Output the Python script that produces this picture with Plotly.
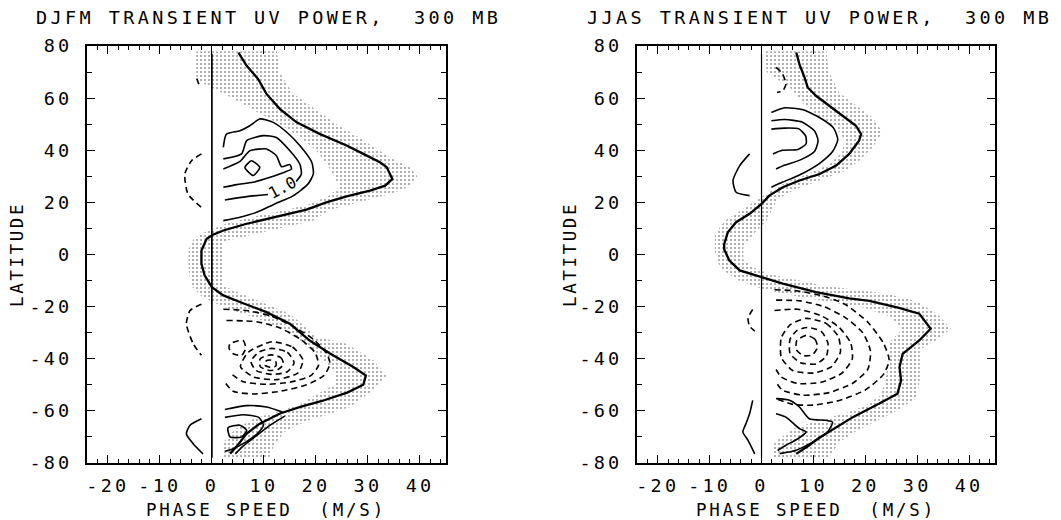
import plotly.graph_objects as go

# ---------------- tick values / labels ----------------
LAT_TICKS = [-80, -60, -40, -20, 0, 20, 40, 60, 80]
LAT_MINOR = [-70, -50, -30, -10, 10, 30, 50, 70]
SPEED_TICKS = [-20, -10, 0, 10, 20, 30, 40]
SPEED_MINOR = [-24, -22, -18, -16, -14, -12, -8, -6, -4, -2, 2, 4, 6, 8, 12, 14, 16, 18,
               22, 24, 26, 28, 32, 34, 36, 38, 42, 44]

TITLES = ["DJFM TRANSIENT UV POWER,\u00a0\u00a0300 MB", "JJAS TRANSIENT UV POWER,\u00a0\u00a0300 MB"]
X_TITLE = "PHASE SPEED\u00a0\u00a0(M/S)"
Y_TITLE = "LATITUDE"

# ---------------- DJFM panel (phase speed, latitude) ----------------
djfm_zonal_wind = [(5.1, 77.5), (6.7, 72.4), (8.9, 67.3), (10.5, 61.6), (13.1, 55.8), (16.3, 50.7),
                   (20.8, 46.2), (25.9, 41.8), (29.1, 38.6), (32.3, 35.4), (33.6, 33.5), (34.7, 29.0),
                   (33.3, 26.4), (30.4, 24.5), (25.9, 22.3), (22.0, 20.0), (18.2, 17.2), (13.1, 14.8),
                   (9.2, 13.0), (6.7, 11.8), (2.2, 9.2), (0.2, 7.6), (-1.0, 6.0), (-2.0, 1.5),
                   (-2.0, -3.6), (-1.4, -8.0), (0.0, -12.5), (2.2, -15.7), (6.0, -18.7), (10.5, -22.1),
                   (15.0, -26.6), (18.8, -33.0), (22.7, -38.0), (27.2, -43.2), (29.6, -46.4),
                   (29.1, -50.0), (26.0, -53.0), (21.0, -56.3), (17.0, -58.5), (13.1, -61.0),
                   (9.2, -64.9), (6.7, -68.7), (4.7, -73.8), (3.5, -76.4)]

djfm_stipple = [(12.5, 78), (13, 70), (15.5, 62), (19.5, 56.4), (24, 50), (29, 44), (34, 37.5),
                (38, 33.5), (39.5, 30), (38, 26), (34, 23), (30, 21), (26.5, 19), (22.5, 17),
                (19.5, 13), (13, 10), (6.7, 7), (2.2, 5), (2.2, -12), (7.3, -16.4), (15, -22.7),
                (20.2, -31.7), (25.9, -34.2), (31, -40.6), (33.6, -46.4), (31, -52.1), (26.5, -58.5),
                (22.7, -61.1), (18, -64), (14, -68), (12, -73), (11, -78),
                (2.2, -78), (2.2, -72), (4.5, -67), (8, -63), (13, -60), (17, -57.5), (19, -55),
                (23.5, -50), (23.5, -45), (21, -40), (17, -33), (13, -28), (8, -24), (4, -21.5),
                (1, -19), (-2, -16), (-4, -12), (-4.5, -5), (-4.5, 2), (-3.5, 6), (-1, 9), (3, 12),
                (8, 14.5), (14, 17), (19, 19.5), (22.5, 22.5), (24.5, 26), (23.5, 30), (22, 35),
                (20, 40), (17, 45), (13, 50), (8, 55.5), (4, 60), (0, 64), (-3, 67), (-3, 78)]

djfm_solid = [
    [(2.2, 41.1), (2.8, 46.2), (5.4, 47.5), (7.3, 49.4), (9.2, 52.0), (11.8, 50.7), (14.4, 46.9),
     (16.9, 41.8), (19.2, 35.4), (19.5, 30.9), (18.5, 27.1), (15.6, 22.5), (12.1, 19.4), (8.6, 16.2),
     (5.4, 14.3), (2.2, 13.0)],
    [(2.2, 36.7), (5.7, 38.6), (6.7, 43.7), (9.9, 45.6), (12.4, 44.9), (15.0, 39.8), (16.9, 34.7),
     (17.2, 30.9), (16.2, 28.0)],
    [(10.8, 23.0), (6.7, 22.2), (2.5, 20.9)],
    [(2.2, 32.8), (5.4, 35.7), (7.3, 39.8), (10.5, 40.5), (12.4, 37.9), (13.4, 33.7), (15.0, 34.5),
     (15.3, 32.8), (13.4, 31.2), (11.2, 29.6), (7.9, 27.7), (4.8, 26.8), (2.2, 25.8)],
    [(6.35, 33.4), (7.6, 36.0), (9.2, 33.4), (7.95, 30.3), (6.35, 33.4)],
    [(-2.0, -63.0), (-4.2, -65.5), (-4.9, -68.8), (-3.6, -72.6), (-1.7, -76.5)],
    [(2.5, -59.5), (6.7, -58.0), (10.5, -58.5), (13.7, -60.5)],
    [(2.5, -62.5), (6.0, -61.5), (9.0, -62.5), (9.9, -65.5), (8.6, -69.0), (6.5, -72.0), (4.1, -74.5),
     (2.5, -75.5)],
    [(3.1, -66.5), (5.4, -65.5), (6.7, -67.5), (5.7, -70.0), (3.5, -70.0), (3.1, -66.5)],
    [(14.0, -62.0), (11.2, -65.5), (8.6, -69.5), (6.0, -73.5), (4.5, -76.5)],
]

djfm_dashed = [
    [(-2.0, 38.6), (-3.9, 36.0), (-5.2, 30.9), (-4.6, 23.2), (-2.0, 18.1)],
    [(-2.9, 67.5), (-2.4, 64.8)],
    [(-2.0, -19.1), (-4.2, -21.5), (-4.9, -26.6), (-3.6, -34.2), (-2.0, -38.7)],
    [(2.2, -21.0), (6.7, -21.5), (11.2, -23.5), (15.6, -27.5), (19.5, -32.5), (22.1, -38.0),
     (22.7, -42.0), (21.5, -46.5), (18.2, -50.0), (13.1, -52.5), (7.9, -53.5), (4.1, -52.5),
     (2.5, -49.0)],
    [(2.8, -25.3), (8.6, -25.8), (13.1, -28.2), (17.0, -32.5), (19.8, -37.5), (20.5, -42.5),
     (19.0, -46.5), (15.0, -49.0), (10.5, -49.8), (6.0, -48.8), (3.5, -45.5)],
    [(11.5, -33.5), (15.5, -35.5), (17.5, -40.5), (16.5, -45.5), (12.5, -48.0), (8.0, -47.0),
     (5.5, -43.0), (7.0, -37.5), (11.5, -33.5)],
    [(11.5, -36.0), (14.5, -37.5), (15.8, -41.5), (14.5, -45.0), (11.5, -46.0), (8.5, -44.5),
     (7.5, -41.0), (9.0, -37.5), (11.5, -36.0)],
    [(11.3, -38.5), (13.2, -39.5), (13.8, -42.0), (12.8, -44.0), (11.0, -44.5), (9.3, -43.0),
     (9.3, -40.0), (11.3, -38.5)],
    [(11.2, -40.5), (12.3, -41.2), (12.3, -42.8), (11.2, -43.3), (10.2, -42.5), (10.3, -41.0),
     (11.2, -40.5)],
    [(3.5, -34.2), (6.0, -33.0), (6.5, -36.0), (5.7, -38.7), (4.1, -38.1), (3.3, -36.0), (3.5, -34.2)],
]

djfm_label = ("1.0", 13.6, 25.6)

# ---------------- JJAS panel ----------------
jjas_zonal_wind = [(6.7, 77.5), (7.3, 73.0), (8.3, 67.9), (8.9, 64.1), (10.5, 60.9), (13.1, 57.1),
                   (15.6, 53.3), (18.2, 49.4), (19.2, 46.2), (18.8, 43.7), (16.9, 38.6), (14.4, 34.1),
                   (11.2, 30.9), (7.3, 28.4), (4.1, 25.8), (1.5, 22.6), (0.0, 19.4), (-2.3, 15.6),
                   (-4.9, 12.4), (-6.5, 8.5), (-7.2, 4.0), (-7.2, 2.0), (-6.2, -2.3), (-4.2, -6.1),
                   (0.0, -8.7), (4.1, -11.2), (10.5, -14.4), (16.9, -16.8), (20.8, -17.8), (26.5, -20.5),
                   (30.4, -22.7), (32.6, -28.5), (30.4, -33.0), (27.2, -38.1), (26.6, -43.2),
                   (26.9, -48.3), (26.2, -53.4), (22.7, -57.2), (17.6, -62.4), (14.0, -67.0),
                   (11.0, -70.5), (9.0, -73.5), (6.7, -76.5)]

jjas_stipple = [(12.5, 78), (13, 70), (15, 62), (18.5, 57), (21.4, 52.6), (23.3, 47), (21.4, 41.1),
                (18.8, 36), (16.3, 32.2), (13.7, 30.3), (10, 27.5), (6, 24.5), (3, 21), (2, 17), (1, 13),
                (-1.5, 8), (-3.5, 3), (-3.5, -2), (-1.5, -5), (1.5, -7.5), (6, -9.5), (12, -12),
                (18, -13.5), (24, -15), (30, -18), (34, -23), (36.5, -28.5), (34, -32.5), (30.5, -36.5),
                (30.5, -42), (30.5, -48), (30, -55), (26, -60), (22, -64), (18, -68), (15, -72), (13, -78),
                (2, -78), (2.5, -72), (6, -67), (12, -63), (16, -61), (20, -58), (23, -54), (24, -47),
                (24.5, -40), (24.5, -34), (27, -29), (25, -24), (20, -20.5), (14, -18.5), (8, -16.5),
                (3, -14.5), (-1, -12.5), (-5, -9.5), (-8, -5), (-9, 1), (-9, 8), (-7, 13), (-4, 17),
                (-1, 21), (1.5, 24), (5, 28), (9, 31), (13, 34.5), (15.5, 39), (16, 44), (14.5, 48.5),
                (11, 53), (8, 58), (5.5, 64), (1, 70), (0.5, 78)]

jjas_solid = [
    [(1.9, 54.5), (4.5, 56.3), (8.0, 55.5), (11.8, 51.8), (13.9, 48.5), (14.7, 44.0), (13.7, 39.5),
     (11.2, 35.0), (7.3, 30.5), (4.1, 27.8), (1.9, 25.8)],
    [(1.9, 51.3), (4.5, 51.8), (7.8, 50.8), (10.2, 47.5), (10.9, 43.7), (10.2, 39.5), (7.5, 36.3),
     (4.5, 34.3), (2.8, 32.8)],
    [(1.9, 48.1), (4.5, 48.5), (7.2, 48.2), (8.5, 45.5), (8.6, 42.5), (7.0, 40.3), (4.0, 40.0),
     (2.2, 38.6)],
    [(-2.3, 38.6), (-4.2, 34.1), (-5.5, 28.4), (-4.9, 23.9), (-2.3, 22.6)],
    [(-1.7, -56.0), (-2.3, -61.1), (-3.0, -64.9), (-3.6, -68.1), (-2.6, -71.3), (-1.3, -76.5)],
    [(2.8, -55.3), (5.4, -55.9), (7.3, -58.5), (9.2, -63.0), (12.4, -63.6), (13.7, -64.3),
     (12.7, -68.1), (9.9, -71.9), (6.7, -75.1), (3.5, -76.4)],
    [(2.8, -61.1), (4.7, -62.4), (7.3, -66.8), (8.6, -68.1), (7.0, -70.7), (4.7, -73.2), (3.1, -75.2)],
]

jjas_dashed = [
    [(2.8, 71.8), (4.0, 69.5), (4.7, 65.4), (4.1, 62.8), (3.0, 62.2)],
    [(-1.7, -21.1), (-2.6, -24.3), (-2.3, -27.5), (-1.3, -29.4)],
    [(2.5, -13.5), (7.0, -14.0), (12.0, -16.0), (16.0, -19.0), (20.5, -26.0), (23.5, -34.0),
     (24.6, -40.5), (23.5, -46.0), (20.0, -52.0), (15.0, -56.0), (10.0, -57.8), (6.0, -57.5),
     (3.0, -55.5)],
    [(2.8, -17.5), (7.5, -17.8), (12.0, -20.0), (16.0, -24.0), (19.5, -30.0), (21.0, -37.0),
     (20.5, -44.0), (17.5, -49.5), (13.0, -53.0), (8.0, -54.0), (4.0, -52.0), (2.8, -49.0)],
    [(2.5, -21.5), (7.0, -21.0), (11.5, -23.5), (15.0, -28.0), (17.2, -34.0), (17.5, -40.0),
     (15.5, -45.5), (11.5, -49.0), (7.0, -49.5), (3.8, -47.0), (2.5, -43.0)],
    [(8.6, -24.5), (12.5, -26.5), (14.8, -31.5), (15.2, -37.5), (13.5, -43.0), (10.0, -45.5),
     (6.0, -44.5), (3.8, -39.5), (3.8, -32.0), (5.5, -27.0), (8.6, -24.5)],
    [(8.8, -28.0), (11.5, -29.5), (12.8, -34.0), (12.5, -39.0), (10.5, -42.0), (7.5, -41.5),
     (5.5, -38.0), (5.5, -32.5), (6.8, -29.2), (8.8, -28.0)],
    [(8.7, -31.0), (10.3, -32.5), (10.8, -35.5), (9.8, -38.5), (8.0, -38.8), (6.7, -36.5),
     (6.8, -33.0), (8.7, -31.0)],
]

ZERO_LINE = [(0, -78), (0, 77)]

# ---------------- figure ----------------
FONT = "DejaVu Sans Mono"
W, H = 1061, 520
fig = go.Figure()


def xy(pts):
    return [p[0] for p in pts], [p[1] for p in pts]


def add_curve(pts, xa, ya, width=1.6, dash="solid", shape="spline"):
    x, y = xy(pts)
    fig.add_trace(go.Scatter(x=x, y=y, mode="lines", xaxis=xa, yaxis=ya, hoverinfo="skip",
                             showlegend=False,
                             line=dict(color="black", width=width, dash=dash, shape=shape,
                                       smoothing=0.6)))


def add_panel(xa, ya, stipple, wind, solid, dashed, zero_w):
    x, y = xy(stipple)
    fig.add_trace(go.Scatter(x=x, y=y, mode="lines", fill="toself", xaxis=xa, yaxis=ya,
                             line=dict(width=0, color="rgba(0,0,0,0)"),
                             fillcolor="rgba(0,0,0,0)",
                             fillpattern=dict(shape=".", size=4, solidity=0.09, fgcolor="#222222",
                                              bgcolor="rgba(0,0,0,0)", fillmode="replace"),
                             hoverinfo="skip", showlegend=False))
    add_curve(ZERO_LINE, xa, ya, width=zero_w, shape="linear")
    for c in solid:
        add_curve(c, xa, ya, width=1.6)
    for c in dashed:
        add_curve(c, xa, ya, width=1.6, dash="6px,4px")
    add_curve(wind, xa, ya, width=2.3, shape="linear")


add_panel("x", "y", djfm_stipple, djfm_zonal_wind, djfm_solid, djfm_dashed, 1.7)
add_panel("x2", "y2", jjas_stipple, jjas_zonal_wind, jjas_solid, jjas_dashed, 1.2)


def spaced(t, ls):
    return f"<span style='letter-spacing:{ls}px'>{t}</span>"


TICKFONT = dict(family=FONT, size=18.5, color="black")


def xaxis(dom, anchor):
    return dict(domain=dom, anchor=anchor, range=[-24, 45], showgrid=False, zeroline=False,
                showline=True, linecolor="black", linewidth=1.7, mirror="ticks",
                ticks="inside", ticklen=8, tickwidth=1.3, tickcolor="black",
                tickmode="array", tickvals=SPEED_TICKS,
                ticktext=[spaced(str(v), 3.2) for v in SPEED_TICKS],
                tickfont=TICKFONT, ticklabelstandoff=5,
                minor=dict(tickmode="array", tickvals=SPEED_MINOR, ticks="inside", ticklen=4,
                           tickwidth=1.1, tickcolor="black"),
                fixedrange=True)


def yaxis(dom, anchor):
    return dict(domain=dom, anchor=anchor, range=[-80, 80], showgrid=False, zeroline=False,
                showline=True, linecolor="black", linewidth=1.7, mirror="ticks",
                ticks="inside", ticklen=8, tickwidth=1.3, tickcolor="black",
                tickmode="array", tickvals=LAT_TICKS,
                ticktext=[spaced(str(v), 3.2) for v in LAT_TICKS],
                tickfont=TICKFONT, ticklabelstandoff=9,
                minor=dict(tickmode="array", tickvals=LAT_MINOR, ticks="inside", ticklen=5,
                           tickwidth=1.1, tickcolor="black"),
                fixedrange=True)


YDOM = [57 / H, 474 / H]
annotations = []
for cx, title in [(268, TITLES[0]), (819, TITLES[1])]:
    annotations.append(dict(text=spaced(title, 3.4), x=cx / W, y=1 - 18 / H, xref="paper", yref="paper",
                            xanchor="center", yanchor="middle", showarrow=False,
                            font=dict(family=FONT, size=18.5, color="black")))
for cx in (266, 816):
    annotations.append(dict(text=spaced(X_TITLE, 2.8), x=cx / W, y=1 - 510 / H, xref="paper",
                            yref="paper", xanchor="center", yanchor="middle", showarrow=False,
                            font=dict(family=FONT, size=17.5, color="black")))
for cx in (17, 570):
    annotations.append(dict(text=spaced(Y_TITLE, 2.6), x=cx / W, y=1 - 255 / H, xref="paper",
                            yref="paper", xanchor="center", yanchor="middle", showarrow=False,
                            textangle=-90, font=dict(family=FONT, size=17.5, color="black")))
annotations.append(dict(text=djfm_label[0], x=djfm_label[1], y=djfm_label[2], xref="x", yref="y",
                        showarrow=False, textangle=-28, font=dict(family=FONT, size=16, color="black")))

fig.update_layout(
    width=W, height=H, autosize=False, template="none",
    margin=dict(l=0, r=0, t=0, b=0, pad=0),
    paper_bgcolor="white", plot_bgcolor="white", showlegend=False,
    xaxis=xaxis([87 / W, 446 / W], "y"), yaxis=yaxis(YDOM, "x"),
    xaxis2=xaxis([637 / W, 995 / W], "y2"), yaxis2=yaxis(YDOM, "x2"),
    annotations=annotations,
)

fig.write_html("out.html")
